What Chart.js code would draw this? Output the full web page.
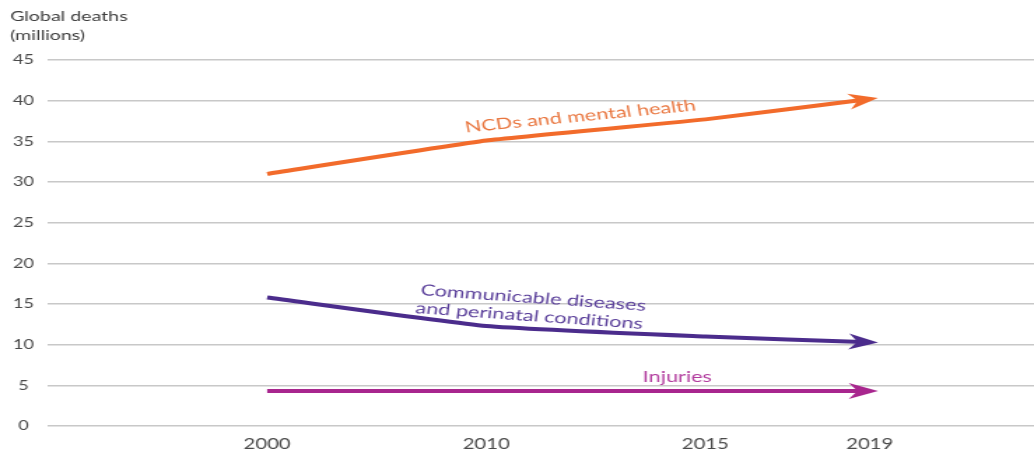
<!DOCTYPE html>
<html>
<head>
<meta charset="utf-8">
<script src="https://cdn.jsdelivr.net/npm/chart.js@4/dist/chart.umd.min.js"></script>
<style>
  html, body { margin: 0; padding: 0; background: #ffffff; overflow: hidden; }
  #wrap { position: absolute; left: 0; top: 0; width: 739px; height: 455px;
          transform: scaleX(1.3992); transform-origin: 0 0; }
</style>
</head>
<body>
<div id="wrap"><canvas id="c" width="739" height="455"></canvas></div>
<script>
// ---- data ----
const years = ['2000', '2010', '2015', '2019'];
const ncd = [31.0, 35.1, 37.7, 40.2];
const communicable = [15.8, 12.3, 11.0, 10.3];
const injuries = [4.3, 4.3, 4.3, 4.3];
const axisLabels = ['', '', '', '', '2000', '', '', '', '2010', '', '', '', '2015', '', '', '2019', '', '', ''];
const yMin = 0, yMax = 45, yStep = 5;
const titleLines = ['Global deaths', '(millions)'];
const seriesNames = ['NCDs and mental health', 'Communicable diseases|and perinatal conditions', 'Injuries'];

const S = 1.3992; // horizontal stretch of the page
const colors = ['#F26B2B', '#4B2C8C', '#A8268E'];
const textColors = ['#E9763F', '#5A3F9A', '#B23C9E'];
const FONT = 'Lato, "Open Sans", sans-serif';

function pts(arr) { return years.map((y, i) => ({ x: y, y: arr[i] })); }

const arrowPlugin = {
  id: 'arrows',
  afterDatasetsDraw(chart) {
    const ctx = chart.ctx;
    chart.data.datasets.forEach((ds, i) => {
      const p = chart.getDatasetMeta(i).data;
      const a = p[p.length - 2], b = p[p.length - 1];
      const dx = b.x - a.x, dy = b.y - a.y, len = Math.hypot(dx, dy);
      const ux = dx / len, uy = dy / len, px = -uy, py = ux;
      const L = 21, Wd = 8, ext = 6;
      const tx = b.x + ux * ext, ty = b.y + uy * ext;
      ctx.save();
      ctx.fillStyle = ds.borderColor;
      ctx.beginPath();
      ctx.moveTo(tx, ty);
      ctx.lineTo(tx - ux * L + px * Wd, ty - uy * L + py * Wd);
      ctx.lineTo(tx - ux * L * 0.7, ty - uy * L * 0.7);
      ctx.lineTo(tx - ux * L - px * Wd, ty - uy * L - py * Wd);
      ctx.closePath();
      ctx.fill();
      ctx.restore();
    });
  }
};

function realAngleToLogical(deg) {
  return Math.atan(S * Math.tan(deg * Math.PI / 180));
}

const labelPlugin = {
  id: 'seriesLabels',
  afterDatasetsDraw(chart) {
    const ctx = chart.ctx;
    const m = i => chart.getDatasetMeta(i).data;
    ctx.save();
    ctx.textAlign = 'center';
    ctx.textBaseline = 'middle';
    // NCDs
    {
      const p = m(0), a = p[1], b = p[2];
      const t = 0.43;
      const x = a.x + (b.x - a.x) * t, y = a.y + (b.y - a.y) * t - 15;
      ctx.save();
      ctx.translate(x, y);
      ctx.rotate(Math.atan2(b.y - a.y, b.x - a.x));
      ctx.fillStyle = textColors[0];
      ctx.font = '15.5px ' + FONT;
      ctx.fillText(seriesNames[0], 0, 0);
      ctx.restore();
    }
    // Communicable
    {
      const p = m(1), a = p[1];
      const x = a.x + 45 / S, y = a.y;
      const lines = seriesNames[1].split('|');
      ctx.fillStyle = textColors[1];
      ctx.font = '15.5px ' + FONT;
      const ang = realAngleToLogical(4);
      ctx.save(); ctx.translate(x + 2 / S, y - 28); ctx.rotate(ang); ctx.fillText(lines[0], 0, 0); ctx.restore();
      ctx.save(); ctx.translate(x - 2 / S, y - 10); ctx.rotate(ang); ctx.fillText(lines[1], 0, 0); ctx.restore();
    }
    // Injuries
    {
      const p = m(2), a = p[2];
      ctx.fillStyle = textColors[2];
      ctx.font = '15.5px ' + FONT;
      ctx.fillText(seriesNames[2], a.x - 28 / S, a.y - 14);
    }
    ctx.restore();
  }
};

const titlePlugin = {
  id: 'axisTitle',
  afterDraw(chart) {
    const ctx = chart.ctx;
    ctx.save();
    ctx.fillStyle = '#3d3d3d';
    ctx.font = '14px ' + FONT;
    ctx.textAlign = 'left';
    ctx.textBaseline = 'middle';
    ctx.fillText(titleLines[0], 10 / S, 16);
    ctx.fillText(titleLines[1], 10 / S, 35);
    ctx.restore();
  }
};

new Chart(document.getElementById('c'), {
  type: 'line',
  data: {
    labels: axisLabels,
    datasets: [
      { label: seriesNames[0], data: pts(ncd), borderColor: colors[0], backgroundColor: colors[0], borderWidth: 4, tension: 0.1 },
      { label: seriesNames[1], data: pts(communicable), borderColor: colors[1], backgroundColor: colors[1], borderWidth: 4, tension: 0.15 },
      { label: seriesNames[2], data: pts(injuries), borderColor: colors[2], backgroundColor: colors[2], borderWidth: 4, tension: 0 }
    ]
  },
  options: {
    responsive: false,
    animation: false,
    events: [],
    elements: { point: { radius: 0, hoverRadius: 0 }, line: { borderCapStyle: 'butt', borderJoinStyle: 'round' } },
    layout: { padding: { top: 60, right: 0, bottom: 2, left: 0 } },
    plugins: { legend: { display: false }, tooltip: { enabled: false }, title: { display: false } },
    scales: {
      x: {
        type: 'category',
        offset: false,
        afterFit(scale) { scale.height = 27; scale.paddingLeft = 0; scale.paddingRight = 0; },
        grid: { display: false, drawTicks: false },
        border: { display: false },
        ticks: { autoSkip: false, maxRotation: 0, minRotation: 0, padding: 10, color: '#4a4a4a', font: { family: FONT, size: 14.5 } }
      },
      y: {
        min: yMin, max: yMax,
        afterFit(scale) { scale.width = 48 / S; },
        grid: { color: '#c8c8c8', lineWidth: 1.5, drawTicks: false },
        border: { display: false },
        ticks: { stepSize: yStep, padding: 10, crossAlign: 'center', color: '#4a4a4a', font: { family: FONT, size: 13 } }
      }
    }
  },
  plugins: [arrowPlugin, labelPlugin, titlePlugin]
});
</script>
</body>
</html>
